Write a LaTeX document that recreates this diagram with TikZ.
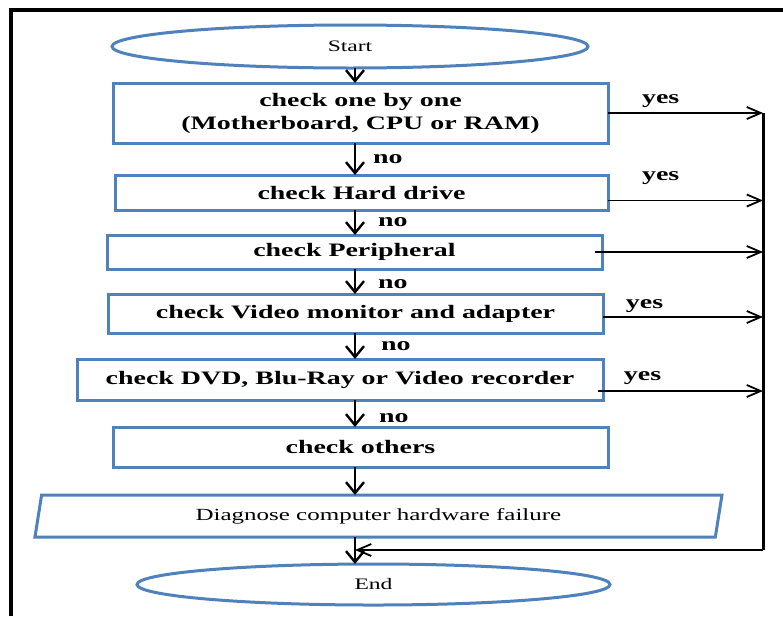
\documentclass[tikz,border=0pt]{standalone}
\usepackage{fontspec}
\setmainfont{Liberation Serif}[FakeStretch=1.47]
\usetikzlibrary{arrows.meta,shapes.geometric,positioning}
\definecolor{boxblue}{RGB}{79,129,189}

\begin{document}
\begin{tikzpicture}[x=1pt,y=-1pt]
      \tikzstyle{procbox}=[rectangle, draw=boxblue, line width=3pt, outer sep=0pt, inner sep=0pt, align=center, font=\bfseries\fontsize{19}{23}\selectfont]
      \tikzstyle{termblock}=[ellipse, draw=boxblue, line width=3pt, outer sep=0pt, inner sep=0pt, font=\fontsize{16}{19}\selectfont]
      \tikzstyle{ioblock}=[trapezium, trapezium left angle=67, trapezium right angle=113, trapezium stretches body=true, draw=boxblue, line width=3pt, outer sep=0pt, inner sep=0pt, font=\fontsize{17}{20}\selectfont]
      \tikzstyle{flowdown}=[-{Straight Barb[length=11pt,width=18pt]}, line width=2.4pt]
      \tikzstyle{flowside}=[-{Straight Barb[length=14pt,width=12pt]}, line width=1.8pt]
      \tikzstyle{lbl}=[inner sep=0pt, font=\bfseries\fontsize{19}{23}\selectfont]
      \useasboundingbox (0,0) rectangle (783,616);
      \draw[line width=4pt] (10.5,616) -- (10.5,10) -- (783,10);
      \coordinate (axis) at (355,0);
      \coordinate (rail) at (763,0);
      \node[termblock, minimum width=476pt, minimum height=43pt] (start) at (350,46.5) {Start};
      \node[procbox, minimum width=495pt, minimum height=60pt, below = 15pt of start, xshift=10.5pt] (box1) {check one by one\\(Motherboard, CPU or RAM)};
      \node[procbox, minimum width=493pt, minimum height=35pt, below = 32pt of box1, xshift=1pt] (box2) {check Hard drive};
      \node[procbox, minimum width=495pt, minimum height=34pt, below = 25pt of box2, xshift=-7pt] (box3) {check Peripheral};
      \node[procbox, minimum width=495pt, minimum height=39pt, below = 25pt of box3, xshift=1pt] (box4) {check Video monitor and adapter};
      \node[procbox, minimum width=526pt, minimum height=41pt, below = 26pt of box4, xshift=-15.5pt] (box5) {check DVD, Blu-Ray or Video recorder};
      \node[procbox, minimum width=495pt, minimum height=40pt, below = 27pt of box5, xshift=20.5pt] (box6) {check others};
      \node[ioblock, minimum width=687pt, minimum height=42pt, below = 28pt of box6, xshift=18pt] (diag) {Diagnose computer hardware failure};
      \node[termblock, minimum width=473pt, minimum height=41pt, below = 27pt of diag, xshift=-5pt] (end) {End};
      % main line
      \draw[flowdown] (start.south -| axis) -- (box1.north -| axis);
      \draw[flowdown] (box1.south -| axis) -- (box2.north -| axis) node[lbl, midway, right=17pt] {no};
      \draw[flowdown] (box2.south -| axis) -- (box3.north -| axis) node[lbl, midway, right=22pt] {no};
      \draw[flowdown] (box3.south -| axis) -- (box4.north -| axis) node[lbl, midway, right=22pt, yshift=-3pt] {no};
      \draw[flowdown] (box4.south -| axis) -- (box5.north -| axis) node[lbl, midway, right=25pt] {no};
      \draw[flowdown] (box5.south -| axis) -- (box6.north -| axis) node[lbl, midway, right=23pt, yshift=-5pt] {no};
      \draw[flowdown] (box6.south -| axis) -- (diag.north -| axis);
      \draw[flowdown] (diag.south -| axis) -- (end.north -| axis);
      % yes branches
      \draw[flowside] (box1.east) -- (box1.east -| rail) node[lbl, above=5pt, pos=0.34] {yes};
      \draw[flowside] ([yshift=-8pt]box2.east) coordinate (y2) -- (y2 -| rail) node[lbl, above=15pt, pos=0.34] {yes};
      \draw[flowside] ([xshift=-7pt]box3.east) coordinate (y3) -- (y3 -| rail);
      \draw[flowside] ([yshift=-3.5pt]box4.east) coordinate (y4) -- (y4 -| rail) node[lbl, above=4pt, pos=0.26] {yes};
      \draw[flowside] ([xshift=-5pt,yshift=-11.5pt]box5.east) coordinate (y5) -- (y5 -| rail) node[lbl, above=6pt, pos=0.27] {yes};
      \coordinate (railend) at (763,550);
      \draw[line width=3pt] (box1.east -| rail) -- (railend);
      \draw[flowside] (railend) -- (railend -| axis);
    \end{tikzpicture}
\end{document}
